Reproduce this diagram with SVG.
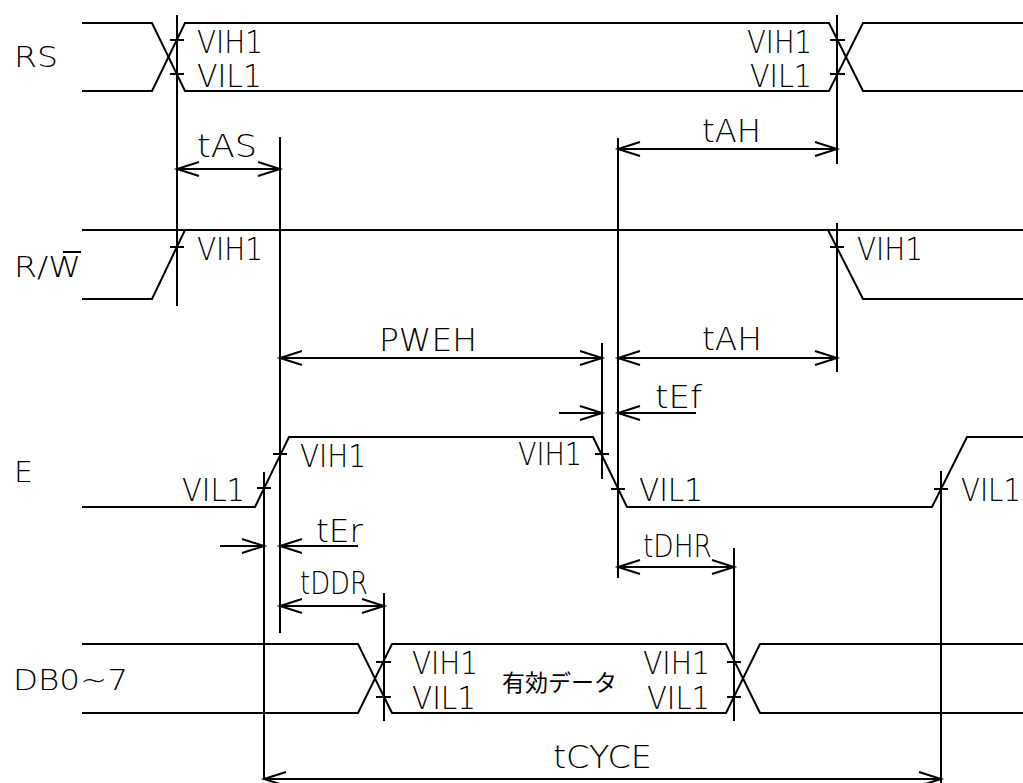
<svg xmlns="http://www.w3.org/2000/svg" width="1023" height="783" viewBox="0 0 1023 783">
<defs>
<style>
.w{fill:none;stroke:#000;stroke-width:2}
.t{font-family:"DejaVu Sans","Liberation Sans",sans-serif;font-weight:200;font-size:32px;fill:#000}
.n{font-family:"DejaVu Sans","Liberation Sans",sans-serif;font-weight:200;font-size:28px;fill:#000}
.j{font-family:"Noto Sans CJK JP",sans-serif;font-weight:400;font-size:23px;fill:#000}
.a{fill:none;stroke:#000;stroke-width:2;marker-start:url(#ah);marker-end:url(#ah)}
.e{fill:none;stroke:#000;stroke-width:2;marker-end:url(#ah)}
</style>
<marker id="ah" markerUnits="userSpaceOnUse" markerWidth="30" markerHeight="20" viewBox="-24 -10 30 20" refX="0" refY="0" orient="auto-start-reverse" overflow="visible">
<path d="M-22,-7 L0,0 L-22,7" fill="none" stroke="#000" stroke-width="2"/>
</marker>
</defs>
<rect width="1023" height="783" fill="#fff"/>

<g id="sig-RS">
<text class="n" x="14" y="67" textLength="44" lengthAdjust="spacingAndGlyphs">RS</text>
<path class="w" d="M82,23 H152 L185,91 H829 L863,23 H1023"/>
<path class="w" d="M82,91 H152 L185,23 H829 L863,91 H1023"/>
<path class="w" d="M170,40 H184 M170,74 H184 M830,40 H845 M830,74 H845"/>
<text class="t" x="197" y="53" textLength="66" lengthAdjust="spacingAndGlyphs">VIH1</text>
<text class="t" x="197" y="87" textLength="65" lengthAdjust="spacingAndGlyphs">VIL1</text>
<text class="t" x="747" y="53" textLength="65" lengthAdjust="spacingAndGlyphs">VIH1</text>
<text class="t" x="750" y="87" textLength="62" lengthAdjust="spacingAndGlyphs">VIL1</text>
</g>

<g id="sig-RW">
<text class="n" x="14" y="277" textLength="67" lengthAdjust="spacingAndGlyphs">R/W</text>
<line class="w" x1="63" y1="252" x2="81" y2="252"/>
<path class="w" d="M82,230 H1023"/>
<path class="w" d="M82,299 H152 L185,230"/>
<path class="w" d="M828,230 L863,299 H1023"/>
<path class="w" d="M170,247 H184 M830,247 H844"/>
<text class="t" x="197" y="260" textLength="66" lengthAdjust="spacingAndGlyphs">VIH1</text>
<text class="t" x="857" y="260" textLength="66" lengthAdjust="spacingAndGlyphs">VIH1</text>
</g>

<g id="sig-E">
<text class="n" x="14" y="482" textLength="19" lengthAdjust="spacingAndGlyphs">E</text>
<path class="w" d="M82,507 H255 L289,437 H593 L627,507 H932 L967,437 H1023"/>
<path class="w" d="M257,488 H271 M273,454 H287 M595,454 H609 M611,489 H625 M934,489 H948"/>
<text class="t" x="182" y="501" textLength="63" lengthAdjust="spacingAndGlyphs">VIL1</text>
<text class="t" x="300" y="467" textLength="66" lengthAdjust="spacingAndGlyphs">VIH1</text>
<text class="t" x="518" y="465" textLength="64" lengthAdjust="spacingAndGlyphs">VIH1</text>
<text class="t" x="639" y="501" textLength="64" lengthAdjust="spacingAndGlyphs">VIL1</text>
<text class="t" x="961" y="501" textLength="60" lengthAdjust="spacingAndGlyphs">VIL1</text>
</g>

<g id="sig-DB">
<text class="n" x="13" y="690" textLength="115" lengthAdjust="spacingAndGlyphs">DB0~7</text>
<path class="w" d="M82,644 H358 L392,713 H726 L760,644 H1023"/>
<path class="w" d="M82,713 H358 L392,644 H726 L760,713 H1023"/>
<path class="w" d="M376,662 H391 M376,697 H391 M727,662 H741 M727,697 H741"/>
<text class="t" x="412" y="674" textLength="66" lengthAdjust="spacingAndGlyphs">VIH1</text>
<text class="t" x="412" y="709" textLength="64" lengthAdjust="spacingAndGlyphs">VIL1</text>
<text class="j" x="502" y="691" textLength="115" lengthAdjust="spacingAndGlyphs">有効データ</text>
<text class="t" x="643" y="674" textLength="67" lengthAdjust="spacingAndGlyphs">VIH1</text>
<text class="t" x="647" y="709" textLength="63" lengthAdjust="spacingAndGlyphs">VIL1</text>
</g>

<g id="connectors">
<line class="w" x1="177" y1="15" x2="177" y2="306"/>
<line class="w" x1="837" y1="15" x2="837" y2="164"/>
<line class="w" x1="837" y1="223" x2="837" y2="372"/>
<line class="w" x1="280" y1="137" x2="280" y2="633"/>
<line class="w" x1="618" y1="138" x2="618" y2="578"/>
<line class="w" x1="602" y1="343" x2="602" y2="479"/>
<line class="w" x1="264" y1="472" x2="264" y2="780"/>
<line class="w" x1="941" y1="471" x2="941" y2="783"/>
<line class="w" x1="384" y1="593" x2="384" y2="721"/>
<line class="w" x1="734" y1="548" x2="734" y2="721"/>

<line class="a" x1="177" y1="169" x2="280" y2="169"/>
<line class="a" x1="618" y1="149" x2="837" y2="149"/>
<line class="a" x1="280" y1="358" x2="602" y2="358"/>
<line class="a" x1="618" y1="358" x2="837" y2="358"/>
<line class="e" x1="559" y1="413" x2="602" y2="413"/>
<line class="e" x1="696" y1="413" x2="618" y2="413"/>
<line class="e" x1="220" y1="546" x2="264" y2="546"/>
<line class="e" x1="358" y1="546" x2="280" y2="546"/>
<line class="a" x1="280" y1="606" x2="384" y2="606"/>
<line class="a" x1="618" y1="567" x2="734" y2="567"/>
<line class="a" x1="264" y1="779" x2="941" y2="779"/>

<text class="t" x="197" y="157" textLength="60" lengthAdjust="spacingAndGlyphs">tAS</text>
<text class="t" x="702" y="142" textLength="59" lengthAdjust="spacingAndGlyphs">tAH</text>
<text class="t" x="379" y="351" textLength="98" lengthAdjust="spacingAndGlyphs">PWEH</text>
<text class="t" x="702" y="350" textLength="60" lengthAdjust="spacingAndGlyphs">tAH</text>
<text class="t" x="655" y="408" textLength="47" lengthAdjust="spacingAndGlyphs">tEf</text>
<text class="t" x="316" y="542" textLength="47" lengthAdjust="spacingAndGlyphs">tEr</text>
<text class="t" x="300" y="594" textLength="68" lengthAdjust="spacingAndGlyphs">tDDR</text>
<text class="t" x="643" y="557" textLength="69" lengthAdjust="spacingAndGlyphs">tDHR</text>
<text class="t" x="553" y="768" textLength="99" lengthAdjust="spacingAndGlyphs">tCYCE</text>
</g>
</svg>
